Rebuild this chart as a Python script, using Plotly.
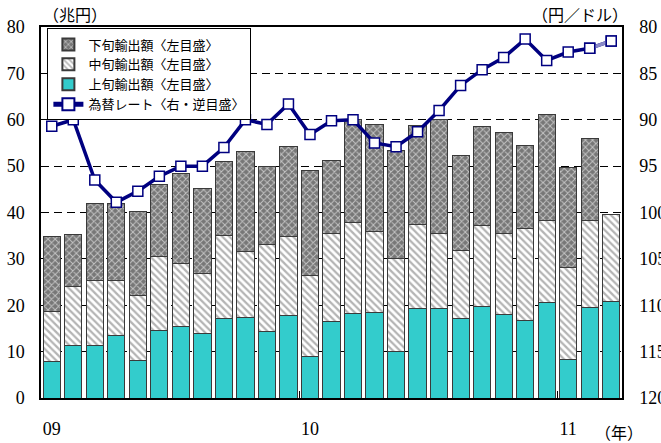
import plotly.graph_objects as go

# Monthly exports (trillion yen) split by ten-day period, Jan 2009 - Mar 2011
months = list(range(27))
year_labels = ["09", "10", "11"]
year_pos = [0, 12, 24]
year_breaks = [11.5, 23.5]

early_exports = [7.8, 11.3, 11.4, 13.4, 8.0, 14.6, 15.5, 14.0, 17.2, 17.4, 14.4, 17.7, 8.9,
                 16.6, 18.3, 18.5, 10.0, 19.2, 19.3, 17.2, 19.7, 18.0, 16.7, 20.6, 8.2, 19.6, 20.9]
mid_exports = [10.8, 12.7, 13.9, 11.9, 14.1, 16.0, 13.5, 12.9, 17.9, 14.1, 18.6, 17.2, 17.6,
               18.8, 19.5, 17.4, 20.1, 18.2, 16.2, 14.7, 17.6, 17.5, 19.9, 17.6, 20.0, 18.6, 18.6]
late_exports = [16.3, 11.3, 16.7, 16.6, 18.1, 15.5, 19.5, 18.3, 16.0, 21.6, 17.0, 19.3, 22.6,
                15.9, 22.2, 23.1, 23.2, 21.3, 24.5, 20.3, 21.2, 21.8, 17.9, 23.0, 21.6, 17.8, None]

# Yen per dollar (plotted on a reversed right-hand axis)
fx_rate = [90.7, 90.0, 96.5, 98.9, 97.7, 96.1, 95.0, 95.0, 93.0, 90.0, 90.5, 88.3, 91.6,
           90.1, 90.0, 92.5, 92.9, 91.3, 89.0, 86.3, 84.6, 83.3, 81.3, 83.6, 82.7, 82.3, 81.5]

JP = "Noto Sans CJK JP"
NUM = "Liberation Serif"
OUTLINE = dict(color="#3a3a3a", width=1)
NAVY = "#000080"
SQUARE = dict(symbol="square", size=10, color="white", line=dict(color=NAVY, width=1.5))

fig = go.Figure()

fig.add_trace(go.Bar(
    x=months, y=early_exports, name="上旬輸出額〈左目盛〉", legendrank=3,
    marker=dict(color="#33CCCC", line=OUTLINE),
))
fig.add_trace(go.Bar(
    x=months, y=mid_exports, name="中旬輸出額〈左目盛〉", legendrank=2,
    marker=dict(color="white", line=OUTLINE,
                pattern=dict(shape="\\", fgcolor="#b4b4b4", bgcolor="white",
                             size=5, solidity=0.45, fillmode="replace")),
))
fig.add_trace(go.Bar(
    x=months, y=late_exports, name="下旬輸出額〈左目盛〉", legendrank=1,
    marker=dict(color="#7c7c7c", line=OUTLINE,
                pattern=dict(shape="x", fgcolor="#c4c4c4", bgcolor="#777777",
                             size=5, solidity=0.35, fillmode="replace")),
))

# exchange-rate line
fig.add_trace(go.Scatter(
    x=months, y=fx_rate, yaxis="y2", mode="lines+markers", name="為替レート〈右・逆目盛〉",
    legendrank=4, marker=SQUARE, line=dict(color=NAVY, width=3.5),
))
# the latest month's segment is drawn in a paler tone
fig.add_trace(go.Scatter(
    x=months[-2:], y=fx_rate[-2:], yaxis="y2", mode="lines",
    line=dict(color="#8a8ac8", width=3.5), showlegend=False, hoverinfo="skip",
))
fig.add_trace(go.Scatter(
    x=months[-2:], y=fx_rate[-2:], yaxis="y2", mode="markers",
    marker=SQUARE, showlegend=False, hoverinfo="skip",
))

fig.update_layout(
    width=661, height=443,
    margin=dict(l=41, r=39, t=27, b=45, autoexpand=False),
    paper_bgcolor="white", plot_bgcolor="white",
    barmode="stack", bargap=0.2,
    font=dict(family=NUM, size=18, color="black"),
    showlegend=True,
    legend=dict(
        x=0.011, y=0.996, xanchor="left", yanchor="top", traceorder="normal",
        bgcolor="white", bordercolor="black", borderwidth=1,
        font=dict(family=JP, size=13, color="black"),
        tracegroupgap=0, itemwidth=30, itemsizing="constant",
    ),
    xaxis=dict(
        range=[-0.5, 26.5], tickmode="array", tickvals=year_pos, ticktext=year_labels,
        ticks="", showgrid=False, zeroline=False, automargin=False,
        showline=True, linecolor="black", linewidth=1.5, mirror=True,
        ticklabelstandoff=14, tickfont=dict(family=NUM, size=18),
        minor=dict(tickmode="array", tickvals=year_breaks, ticks="inside",
                   ticklen=7, tickcolor="black", tickwidth=1),
    ),
    yaxis=dict(
        range=[0, 80], dtick=10, ticks="", automargin=False,
        showgrid=True, gridcolor="black", gridwidth=1, griddash="8px,5px",
        zeroline=False, showline=True, linecolor="black", linewidth=1.5, mirror=True,
        ticklabelstandoff=11, tickfont=dict(family=NUM, size=18),
    ),
    yaxis2=dict(
        range=[120, 80], dtick=5, overlaying="y", side="right", ticks="", automargin=False,
        showgrid=False, zeroline=False, showline=True, linecolor="black", linewidth=1.5,
        ticklabelstandoff=12, tickfont=dict(family=NUM, size=18),
    ),
    annotations=[
        dict(text="（兆円）", xref="paper", yref="paper", x=0.0, y=1.0, yshift=13,
             xanchor="left", yanchor="middle", showarrow=False,
             font=dict(family=JP, size=16)),
        dict(text="（円／ドル）", xref="paper", yref="paper", x=1.0, y=1.0, yshift=13, xshift=8,
             xanchor="right", yanchor="middle", showarrow=False,
             font=dict(family=JP, size=16)),
        dict(text="（年）", xref="paper", yref="paper", x=0.95, y=0, yshift=-34,
             xanchor="left", yanchor="middle", showarrow=False,
             font=dict(family=JP, size=16)),
    ],
)

fig.write_html("out.html")
